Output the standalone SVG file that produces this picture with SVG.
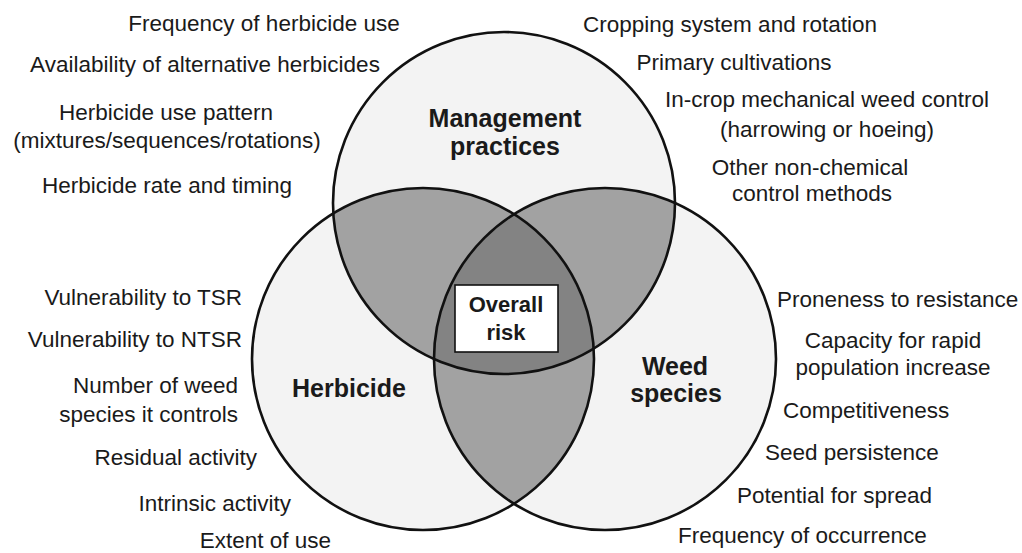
<svg xmlns="http://www.w3.org/2000/svg" width="1022" height="553" viewBox="0 0 1022 553">
<style>
.t{font-family:"Liberation Sans",Arial,sans-serif;font-size:22.5px;fill:#1a1a1a}
.b{font-family:"Liberation Sans",Arial,sans-serif;font-size:25px;font-weight:bold;fill:#1a1a1a;text-anchor:middle}
.m{text-anchor:middle}
.e{text-anchor:end}
.ring{fill:none;stroke:#111;stroke-width:2.6}
</style>
<defs>
<clipPath id="cT"><circle cx="504" cy="203" r="171"/></clipPath>
<clipPath id="cL"><circle cx="423" cy="359" r="171"/></clipPath>
<clipPath id="cR"><circle cx="605" cy="359" r="171"/></clipPath>
</defs>
<rect width="1022" height="553" fill="#ffffff"/>
<g id="fills">
<circle cx="504" cy="203" r="171" fill="#f3f3f3"/>
<circle cx="423" cy="359" r="171" fill="#f3f3f3"/>
<circle cx="605" cy="359" r="171" fill="#f3f3f3"/>
<circle cx="423" cy="359" r="171" fill="#a2a2a2" clip-path="url(#cT)"/>
<circle cx="605" cy="359" r="171" fill="#a2a2a2" clip-path="url(#cT)"/>
<circle cx="605" cy="359" r="171" fill="#a2a2a2" clip-path="url(#cL)"/>
<g clip-path="url(#cT)"><circle cx="605" cy="359" r="171" fill="#838383" clip-path="url(#cL)"/></g>
</g>
<g id="management">
<circle class="ring" cx="504" cy="203" r="171"/>
<text class="b" x="505" y="127">Management</text>
<text class="b" x="505" y="155">practices</text>
</g>
<g id="herbicide">
<circle class="ring" cx="423" cy="359" r="171"/>
<text class="b" x="349" y="397">Herbicide</text>
</g>
<g id="weed">
<circle class="ring" cx="605" cy="359" r="171"/>
<text class="b" x="675" y="375">Weed</text>
<text class="b" x="676" y="402">species</text>
</g>
<g id="overall">
<rect x="455" y="285" width="103" height="67" fill="#ffffff" stroke="#111" stroke-width="1.6"/>
<text class="b" style="font-size:22px" x="506" y="312">Overall</text>
<text class="b" style="font-size:22px" x="506" y="340">risk</text>
</g>
<g id="connectors"></g>
<g id="herbicide-use-factors" class="t">
<text class="t m" x="264" y="31">Frequency of herbicide use</text>
<text class="t m" x="205" y="72">Availability of alternative herbicides</text>
<text class="t m" x="166" y="120">Herbicide use pattern</text>
<text class="t m" x="167" y="148">(mixtures/sequences/rotations)</text>
<text class="t m" x="167" y="193">Herbicide rate and timing</text>
</g>
<g id="management-factors">
<text class="t m" x="730" y="32">Cropping system and rotation</text>
<text class="t m" x="734" y="70">Primary cultivations</text>
<text class="t m" x="827" y="107">In-crop mechanical weed control</text>
<text class="t m" x="827" y="137">(harrowing or hoeing)</text>
<text class="t m" x="810" y="175">Other non-chemical</text>
<text class="t m" x="812" y="201">control methods</text>
</g>
<g id="herbicide-factors">
<text class="t e" x="242" y="305">Vulnerability to TSR</text>
<text class="t e" x="242" y="347">Vulnerability to NTSR</text>
<text class="t e" x="238" y="393">Number of weed</text>
<text class="t e" x="238" y="422">species it controls</text>
<text class="t e" x="257" y="465">Residual activity</text>
<text class="t e" x="291" y="511">Intrinsic activity</text>
<text class="t e" x="331" y="548">Extent of use</text>
</g>
<g id="weed-factors">
<text class="t" x="777" y="307">Proneness to resistance</text>
<text class="t m" x="893" y="348">Capacity for rapid</text>
<text class="t m" x="893" y="375">population increase</text>
<text class="t" x="783" y="418">Competitiveness</text>
<text class="t" x="765" y="460">Seed persistence</text>
<text class="t" x="737" y="503">Potential for spread</text>
<text class="t" x="678" y="543">Frequency of occurrence</text>
</g>
</svg>
